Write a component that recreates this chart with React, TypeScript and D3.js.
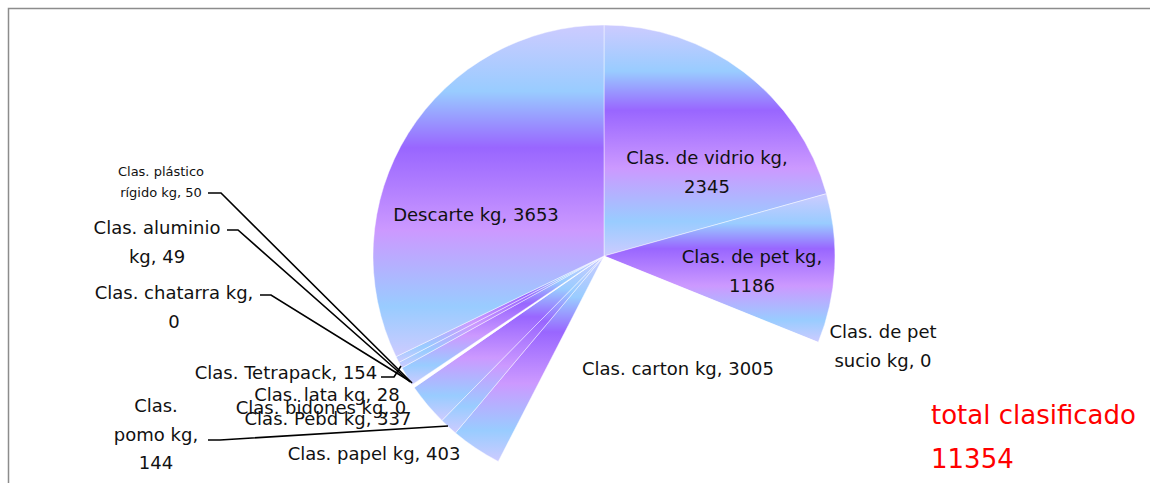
import React from "react";
import * as d3 from "d3";

const categories = [
  "Clas. de vidrio kg",
  "Clas. de pet kg",
  "Clas. de pet sucio kg",
  "Clas. carton kg",
  "Clas. papel kg",
  "Clas. pomo kg",
  "Clas. Pebd kg",
  "Clas. bidones kg",
  "Clas. lata kg",
  "Clas. Tetrapack",
  "Clas. chatarra kg",
  "Clas. aluminio kg",
  "Clas. plástico rígido kg",
  "Descarte kg",
];
const values = [2345, 1186, 0, 3005, 403, 144, 337, 0, 28, 154, 0, 49, 50, 3653];
const totalLabel = "total clasificado";

// label layout (page coordinates): lines of text, center x, center y of first line
type Lay = { lines: string[]; x: number; y: number; size?: number; lh?: number; leader?: [number, number][] };
const layout: Lay[] = [
  { lines: ["Clas. de vidrio kg,", "2345"], x: 707, y: 157 },
  { lines: ["Clas. de pet kg,", "1186"], x: 752, y: 256 },
  { lines: ["Clas. de pet", "sucio kg, 0"], x: 883, y: 331 },
  { lines: ["Clas. carton kg, 3005"], x: 678, y: 368 },
  { lines: ["Clas. papel kg, 403"], x: 374, y: 453 },
  { lines: ["Clas.", "pomo kg,", "144"], x: 156, y: 405, leader: [[208, 440], [220, 440], [448, 426]] },
  { lines: ["Clas. Pebd kg, 337"], x: 328, y: 418 },
  { lines: ["Clas. bidones kg, 0"], x: 321, y: 407 },
  { lines: ["Clas. lata kg, 28"], x: 327, y: 394 },
  { lines: ["Clas. Tetrapack, 154"], x: 286, y: 372, leader: [[381, 377], [394, 377], [401, 366]] },
  { lines: ["Clas. chatarra kg,", "0"], x: 174, y: 292, leader: [[260, 295], [271, 295], [408, 380]] },
  { lines: ["Clas. aluminio", "kg, 49"], x: 157, y: 227, leader: [[227, 230], [238, 230], [410, 382]] },
  { lines: ["Clas. plástico", "rígido kg, 50"], x: 161, y: 171, size: 13, lh: 21, leader: [[208, 193], [221, 193], [412, 383]] },
  { lines: ["Descarte kg, 3653"], x: 476, y: 214 },
];
const whiteSlices = new Set([3, 8]);

export default function App() {
  const cx = 604;
  const cy = 256;
  const r = 231;
  const total = d3.sum(values);
  const pie = d3.pie<number>().sort(null).value((d) => d).startAngle(0).endAngle(2 * Math.PI);
  const arcs = pie(values);
  const arc = d3.arc<d3.PieArcDatum<number>>().innerRadius(0).outerRadius(r);
  const font = "'DejaVu Sans', sans-serif";

  return (
    <svg
      width={1150}
      height={483}
      style={{ display: "block", position: "absolute", left: 0, top: 0 }}
    >
      <defs>
        <linearGradient id="sliceGrad" x1="0" y1="0" x2="0" y2="1">
          <stop offset="0" stopColor="#cdcbff" />
          <stop offset="0.2" stopColor="#99ccff" />
          <stop offset="0.37" stopColor="#9966ff" />
          <stop offset="0.62" stopColor="#cc99ff" />
          <stop offset="0.85" stopColor="#99ccff" />
          <stop offset="1" stopColor="#cdcbff" />
        </linearGradient>
      </defs>
      <rect x={0} y={0} width={1150} height={483} fill="#fff" />
      <rect x={8.5} y={8.5} width={1300} height={600} fill="#fff" stroke="#8c8c8c" strokeWidth={1.5} />
      <g transform={`translate(${cx},${cy})`}>
        {arcs.map((a, i) =>
          a.value > 0 ? (
            <path
              key={i}
              d={arc(a) || ""}
              fill={whiteSlices.has(i) ? "#ffffff" : "url(#sliceGrad)"}
              stroke="rgba(255,255,255,0.55)"
              strokeWidth={0.8}
            />
          ) : null
        )}
      </g>
      {layout.map((l, i) =>
        l.leader ? (
          <polyline
            key={"l" + i}
            points={l.leader.map((p) => p.join(",")).join(" ")}
            fill="none"
            stroke="#000"
            strokeWidth={1.6}
          />
        ) : null
      )}
      {layout.map((l, i) => (
        <text
          key={"t" + i}
          fontFamily={font}
          fontSize={l.size || 18}
          fill="#111"
          textAnchor="middle"
          dominantBaseline="central"
        >
          {l.lines.map((s, j) => (
            <tspan key={j} x={l.x} y={l.y + j * (l.lh || 28.5)}>
              {s}
            </tspan>
          ))}
        </text>
      ))}
      <text fontFamily={font} fontSize={26} fill="#ff0000" dominantBaseline="central">
        <tspan x={931} y={415}>{totalLabel}</tspan>
        <tspan x={931} y={459}>{total}</tspan>
      </text>
    </svg>
  );
}
